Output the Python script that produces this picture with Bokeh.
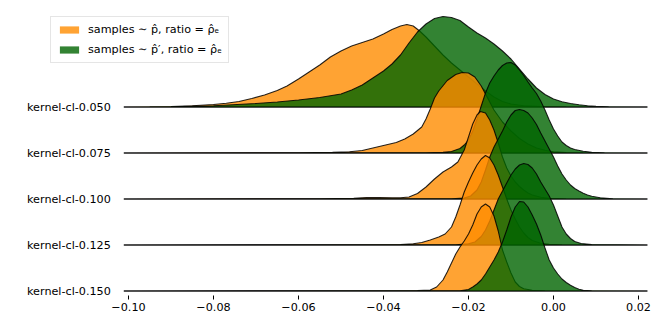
from bokeh.plotting import figure
from bokeh.models import Range1d, FixedTicker, CustomJSTickFormatter, Legend, LegendItem
from bokeh.core.properties import value
from bokeh.embed import file_html
from bokeh.resources import INLINE

categories = ["kernel-cl-0.050", "kernel-cl-0.075", "kernel-cl-0.100",
              "kernel-cl-0.125", "kernel-cl-0.150"]
x_ticks = [-0.10, -0.08, -0.06, -0.04, -0.02, 0.00, 0.02]

series_labels = ["samples \u223c p\u0302, ratio = \u03c1\u0302\u2091",
                 "samples \u223c p\u0302\u2032, ratio = \u03c1\u0302\u2091"]

# density curves (relative height), one list per row
orange_x = [
    [-0.1011, -0.095, -0.090, -0.085, -0.080, -0.077, -0.074, -0.071, -0.068, -0.065, -0.0627, -0.060,
     -0.0575, -0.055, -0.0525, -0.050, -0.0475, -0.045, -0.0425, -0.040, -0.038, -0.036, -0.0345,
     -0.033, -0.0315, -0.030, -0.028, -0.026, -0.024, -0.022, -0.020, -0.018, -0.016, -0.014, -0.012,
     -0.010, -0.007, -0.003, 0.003, 0.0221],
    [-0.1011, -0.060, -0.052, -0.048, -0.045, -0.043, -0.041, -0.039, -0.037, -0.035, -0.033, -0.031,
     -0.030, -0.029, -0.028, -0.027, -0.025, -0.023, -0.0215, -0.020, -0.0185, -0.017, -0.0155,
     -0.014, -0.012, -0.010, -0.008, -0.006, -0.004, -0.002, 0.000, 0.003, 0.007, 0.0221],
    [-0.1011, -0.055, -0.047, -0.044, -0.041, -0.038, -0.036, -0.034, -0.032, -0.030, -0.028, -0.026,
     -0.024, -0.0225, -0.021, -0.020, -0.019, -0.018, -0.0172, -0.016, -0.015, -0.014, -0.013,
     -0.012, -0.011, -0.010, -0.009, -0.008, -0.007, -0.006, -0.005, -0.003, -0.001, 0.003, 0.0221],
    [-0.1011, -0.045, -0.036, -0.033, -0.031, -0.029, -0.027, -0.0255, -0.024, -0.023, -0.022, -0.021,
     -0.020, -0.019, -0.018, -0.017, -0.016, -0.015, -0.014, -0.013, -0.012, -0.011, -0.010, -0.009,
     -0.008, -0.007, -0.006, -0.005, -0.003, -0.001, 0.002, 0.0221],
    [-0.1011, -0.040, -0.032, -0.029, -0.0275, -0.026, -0.025, -0.024, -0.023, -0.022, -0.021, -0.020,
     -0.019, -0.018, -0.017, -0.016, -0.015, -0.014, -0.013, -0.012, -0.011, -0.010, -0.009, -0.008,
     -0.007, -0.005, -0.002, 0.0221],
]
orange_h = [
    [0, 0.2, 0.5, 1.2, 2.5, 3.8, 5.5, 8.5, 12, 16.5, 21, 28, 35, 42, 50, 56, 61, 64.5, 68, 73, 77.5,
     81, 82.5, 81, 76, 70, 61, 52, 44, 37, 30, 23, 16, 10, 5.5, 3, 1.2, 0.4, 0.1, 0],
    [0, 0.2, 0.6, 1.2, 2.5, 4.5, 6.5, 8.5, 10.5, 14, 19, 26, 34, 44, 55, 62, 72.5, 78.5, 80.5, 80, 76,
     67, 55, 43, 31, 22, 14.5, 9, 5, 2.7, 1.3, 0.5, 0.1, 0],
    [0, 0.2, 0.8, 1.4, 1.5, 1.2, 1.3, 2, 5.5, 12, 20, 27, 32, 37, 49, 62, 75, 84, 87.5, 86, 79, 69, 56,
     42, 31, 23, 17, 12.5, 9, 6, 4, 1.8, 0.7, 0.1, 0],
    [0, 0.2, 0.5, 1.2, 2.5, 5, 8, 11, 18, 28, 40, 53, 63, 72, 80, 86, 89.5, 87, 80, 70, 58, 46, 35, 26,
     18, 12, 7.5, 4.5, 1.8, 0.6, 0.1, 0],
    [0, 0.2, 0.4, 1, 4, 11, 19, 28, 37, 44, 50, 57, 66, 77, 84, 87, 84, 75, 60, 41, 29, 18, 9, 4.5,
     2.2, 0.7, 0.2, 0],
]
green_x = [
    [-0.1011, -0.090, -0.080, -0.070, -0.065, -0.060, -0.055, -0.050, -0.0475, -0.045, -0.0425, -0.040,
     -0.038, -0.036, -0.034, -0.032, -0.030, -0.028, -0.026, -0.024, -0.022, -0.020, -0.018, -0.016,
     -0.014, -0.012, -0.010, -0.008, -0.006, -0.004, -0.002, 0.000, 0.002, 0.004, 0.006, 0.008, 0.010,
     0.013, 0.0221],
    [-0.1011, -0.030, -0.026, -0.024, -0.022, -0.021, -0.020, -0.019, -0.018, -0.017, -0.016, -0.015,
     -0.014, -0.013, -0.012, -0.011, -0.010, -0.009, -0.008, -0.007, -0.006, -0.005, -0.004, -0.003,
     -0.002, -0.001, 0.000, 0.001, 0.002, 0.003, 0.004, 0.005, 0.007, 0.009, 0.012, 0.0221],
    [-0.1011, -0.024, -0.021, -0.0195, -0.018, -0.017, -0.016, -0.015, -0.014, -0.013, -0.012, -0.011,
     -0.010, -0.009, -0.008, -0.007, -0.006, -0.005, -0.004, -0.003, -0.002, -0.001, 0.000, 0.001,
     0.002, 0.003, 0.004, 0.005, 0.006, 0.007, 0.008, 0.009, 0.011, 0.014, 0.0221],
    [-0.1011, -0.023, -0.020, -0.0185, -0.017, -0.016, -0.015, -0.014, -0.013, -0.012, -0.011, -0.010,
     -0.009, -0.008, -0.007, -0.006, -0.005, -0.004, -0.003, -0.002, -0.001, 0.000, 0.001, 0.002,
     0.003, 0.004, 0.005, 0.0065, 0.009, 0.0221],
    [-0.1011, -0.022, -0.020, -0.019, -0.018, -0.017, -0.016, -0.015, -0.014, -0.013, -0.012, -0.011,
     -0.010, -0.009, -0.008, -0.007, -0.006, -0.005, -0.004, -0.003, -0.002, -0.001, 0.000, 0.001,
     0.002, 0.003, 0.004, 0.005, 0.006, 0.007, 0.009, 0.0221],
]
green_h = [
    [0, 0.3, 1.2, 3.5, 5, 7, 9.5, 13, 17, 22, 29, 36, 43, 52, 64, 75, 83, 88.5, 90.5, 89.5, 86.5, 80,
     74, 69, 63, 56, 48, 38, 28, 19, 12.5, 8, 5.3, 3.5, 2.2, 1.3, 0.6, 0.2, 0],
    [0, 0.2, 0.6, 1.5, 4.5, 8, 13, 22, 34, 47, 60, 70, 77, 83, 87.5, 90, 90.5, 88, 83, 77.5, 71, 65,
     59.5, 52, 43, 33, 24, 17, 11, 7.5, 5, 3.5, 1.8, 0.8, 0.2, 0],
    [0, 0.2, 1, 3, 9, 17, 29, 42, 52, 60, 68, 77, 84, 88.5, 89.5, 88.5, 86, 81, 74.5, 66, 58, 50, 42,
     33, 25, 19, 14, 10.5, 8, 5.8, 4, 2.7, 1.2, 0.3, 0],
    [0, 0.2, 1.2, 3, 8.5, 15, 24, 35, 46, 54, 62, 70, 76, 80, 81.5, 80.5, 77, 71, 63, 56, 49, 40, 29,
     18, 11, 6.5, 3.5, 1.5, 0.4, 0],
    [0, 0.2, 1.5, 4, 7, 11, 17, 24, 31, 39, 49, 61, 74, 84, 89.5, 89, 84, 76, 67, 56, 43, 31, 23, 17,
     12, 8.5, 5.7, 3.5, 1.8, 0.7, 0.2, 0],
]

ROW_STEP = 46.0
ORANGE = "#ff8c00"
GREEN = "#006400"
FONT = "DejaVu Sans"
FSIZE = "11.2px"

p = figure(width=656, height=324, output_backend="svg", toolbar_location=None,
           x_range=Range1d(-0.13012, 0.02424), y_range=Range1d(-188.5, 106.5),
           y_axis_location=None,
           min_border_left=0, min_border_right=0, min_border_top=0, min_border_bottom=29)
p.xgrid.visible = False
p.ygrid.visible = False
p.outline_line_color = None
p.background_fill_color = "white"

baselines = [-i * ROW_STEP for i in range(len(categories))]
legend_proxies = []
for i, base in enumerate(baselines):
    for xs, hs, col in ((orange_x[i], orange_h[i], ORANGE), (green_x[i], green_h[i], GREEN)):
        ys = [base + h for h in hs]
        px = list(xs) + [xs[-1], xs[0]]
        py = ys + [base, base]
        p.patch(px, py, fill_color=col, fill_alpha=0.8,
                line_color="black", line_alpha=0.85, line_width=1.1)
        if i == 0:
            # hidden copy without outline, only used for the legend swatch
            legend_proxies.append(p.patch(px, py, fill_color=col, fill_alpha=0.8,
                                          line_color=None, visible=False))

# row labels at the left end of each baseline
p.text(x=[orange_x[i][0] for i in range(len(categories))], y=baselines, text=categories,
       x_offset=-13, text_align="right", text_baseline="middle",
       text_font=value(FONT), text_font_size=FSIZE, text_color="black")

# x axis
xa = p.xaxis[0]
xa.ticker = FixedTicker(ticks=x_ticks)
xa.formatter = CustomJSTickFormatter(code="""
const s = Math.abs(tick).toFixed(2);
return tick < -1e-9 ? '\u2212' + s : s;
""")
xa.axis_line_color = None
xa.major_tick_line_color = "black"
xa.major_tick_out = 4
xa.major_tick_in = 0
xa.minor_tick_line_color = None
xa.major_label_standoff = 3
xa.major_label_text_font = FONT
xa.major_label_text_font_size = FSIZE
xa.major_label_text_color = "black"

legend = Legend(items=[LegendItem(label=series_labels[0], renderers=[legend_proxies[0]]),
                       LegendItem(label=series_labels[1], renderers=[legend_proxies[1]])],
                location=(50, 232), orientation="vertical", click_policy="none",
                glyph_width=24, glyph_height=9, label_height=9, label_standoff=7,
                spacing=7, padding=6, margin=0,
                border_line_color="#cccccc", border_line_width=1,
                background_fill_color="white", background_fill_alpha=0.8,
                label_text_font=FONT, label_text_font_size=FSIZE,
                label_text_color="black")
p.add_layout(legend)

open("out.html", "w").write(file_html(p, INLINE))
